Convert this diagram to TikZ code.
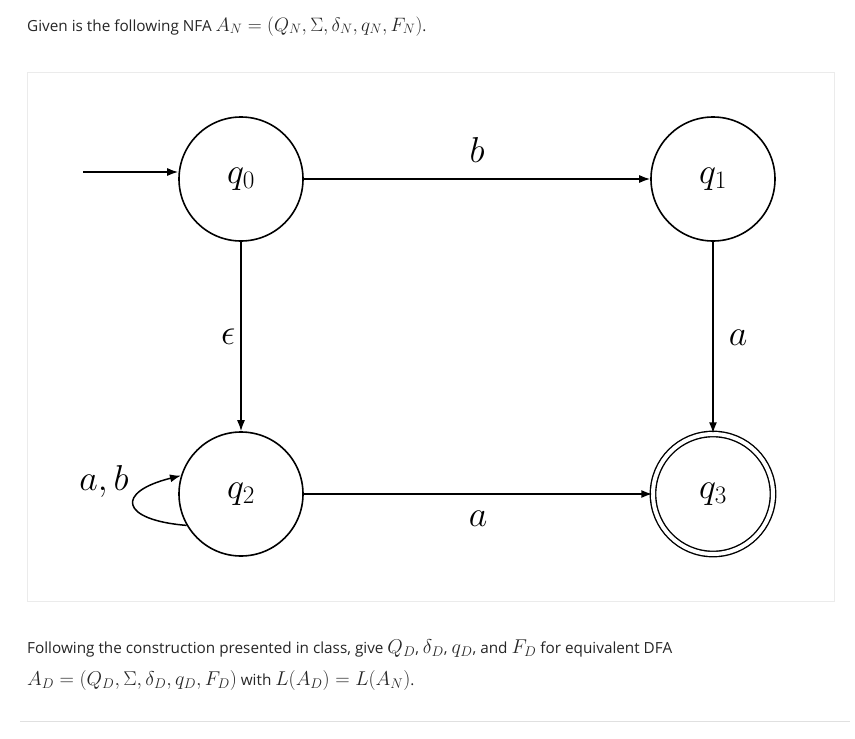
\documentclass[tikz,border=0pt]{standalone}
\usepackage{fix-cm}
\usepackage{fontspec}
\setmainfont{Open Sans}
\usetikzlibrary{arrows.meta}
\begin{document}
\begin{tikzpicture}[x=1pt,y=-1pt,
  state/.style={circle,draw,line width=1.6pt,minimum size=124pt,inner sep=0pt,font=\fontsize{36}{38}\selectfont},
  accepting/.style={double,double distance=4pt,line width=1.4pt,minimum size=120pt},
  edge/.style={line width=1.5pt,-{Latex[length=11pt,width=8pt]}},
  elabel/.style={font=\fontsize{36}{38}\selectfont,inner sep=0pt},
  txt/.style={anchor=base west,inner sep=0pt,font=\fontsize{15.3}{18}\selectfont,text=black!85}]
\useasboundingbox (0,0) rectangle (855,739);
\fill[white] (0,0) rectangle (855,739);
\draw[black!8,line width=1pt] (27,72) rectangle (834,601);
\draw[black!12,line width=1pt] (20,721) -- (850,721);
\node[txt] (t1) at (27,31) {Given is the following NFA {\fontsize{19.4}{22}\selectfont$A_N = (Q_N,\Sigma,\delta_N,q_N,F_N)$}.};
\node[txt] (t2) at (27,653) {Following the construction presented in class, give {\fontsize{20}{22}\selectfont$Q_D$}, {\fontsize{20}{22}\selectfont$\delta_D$}, {\fontsize{20}{22}\selectfont$q_D$}, and {\fontsize{20}{22}\selectfont$F_D$} for equivalent DFA};
\node[txt] (t3) at (27,685) {{\fontsize{20}{22}\selectfont$A_D = (Q_D,\Sigma,\delta_D,q_D,F_D)$} with {\fontsize{20}{22}\selectfont$L(A_D)=L(A_N)$}.};
\node[state] (q0) at (241,179) {$q_0$};
\node[state] (q1) at (713,179) {$q_1$};
\node[state] (q2) at (241,494) {$q_2$};
\node[state,accepting] (q3) at (713,494) {$q_3$};
\coordinate (s) at (83,172);
\draw[edge] (s) -- (q0.west |- s);
\draw[edge] (q0) -- node[elabel,above=16pt] {$b$} (q1);
\draw[edge] (q0) -- node[elabel,left=5pt] {$\epsilon$} (q2);
\draw[edge] (q1) -- node[elabel,right=15pt] {$a$} (q3);
\draw[edge] (q2) -- node[elabel,below=16pt] {$a$} (q3);
\draw[edge] (q2.210) .. controls (120,520) and (115,492) .. (q2.163);
\node[elabel] (lab) at (104,481) {$a,b$};
\end{tikzpicture}
\end{document}
